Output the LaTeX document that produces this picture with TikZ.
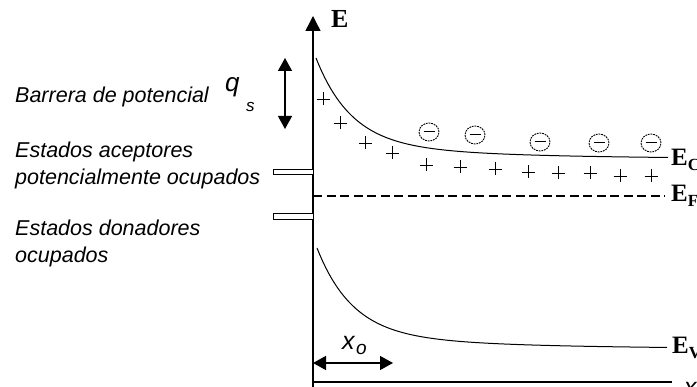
\documentclass[tikz,border=0pt]{standalone}
\usepackage{fontspec}
\setmainfont{Liberation Serif}
\setsansfont{Liberation Sans}
\usetikzlibrary{arrows.meta,shapes.geometric}
\begin{document}
\begin{tikzpicture}[x=1pt,y=-1pt,
  lbl/.style={font=\sffamily\itshape\fontsize{21.5}{27}\selectfont, anchor=base west, inner sep=0pt},
  elbl/.style={font=\rmfamily\bfseries\fontsize{25}{25}\selectfont, anchor=base west, inner sep=0pt},
  axis/.style={line width=1.4pt},
  band/.style={line width=1pt},
  fermi/.style={line width=2.6pt, dash pattern=on 9pt off 4.5pt},
  dblarrow/.style={line width=1.3pt, {Triangle[width=14pt,length=13pt]}-{Triangle[width=14pt,length=13pt]}},
  plusmark/.style={line width=0.9pt},
  minuscircle/.style={ellipse, draw, line width=0.9pt, dash pattern=on 1.8pt off 0.9pt, minimum width=20pt, minimum height=18pt, inner sep=0pt},
  statebox/.style={draw, line width=0.8pt, fill=white}]
\useasboundingbox (0,0) rectangle (697,387);
% axes
\coordinate (O) at (313,382);
\coordinate (Etop) at (313,16);
\coordinate (Xend) at (672,382);
\coordinate (Obot) at (313,392);
\draw[axis,-{Triangle[width=15pt,length=15pt]}] (Obot) -- (Etop);
\draw[axis] (O) -- (Xend);
\node[font=\rmfamily\bfseries\fontsize{26}{26}\selectfont, anchor=base west, inner sep=0pt] (Elab) at (331,28) {E};
\node[font=\sffamily\itshape\fontsize{25}{25}\selectfont, anchor=base west, inner sep=0pt] (xlab) at (684,396) {x};
% conduction band
\draw[band] plot[domain=316:668, samples=120] (\x, {159 - 85*exp(-(\x-316)/35) - 16*exp(-(\x-316)/150)});
\node[elbl] (Ec) at (671,166) {E\raisebox{-5pt}{\fontsize{17}{17}\selectfont C}};
% Fermi level
\coordinate (Fa) at (313,196);
\coordinate (Fb) at (665,196);
\draw[fermi] (Fa) -- (Fb);
\node[elbl] (Ef) at (671,202) {E\raisebox{-5pt}{\fontsize{17}{17}\selectfont F}};
% valence band
\draw[band] plot[domain=317:667, samples=120] (\x, {349 - 85*exp(-(\x-317)/35) - 16*exp(-(\x-317)/150)});
\node[elbl] (Ev) at (672,354) {E\raisebox{-5pt}{\fontsize{17}{17}\selectfont V}};
% plus charges
\foreach \px/\py in {323/99,340/123,365/143,392/153,426/165,460/167,495/169,528/172,558/173,590/173,620/176,651/176}{
  \draw[plusmark] (\px-6.5,\py) -- (\px+6.5,\py) (\px,\py-6.5) -- (\px,\py+6.5);
}
% minus charges
\foreach \mx/\my [count=\i] in {429/132,475/135,540/142,599/143,651/143}{
  \node[minuscircle] (m\i) at (\mx,\my) {};
  \draw[line width=1pt] (\mx-5.5,\my) -- (\mx+5.5,\my);
}
% barrier arrow
\coordinate (Ba) at (285,58);
\coordinate (Bb) at (285,129);
\draw[dblarrow] (Ba) -- (Bb);
\node[lbl] (barrera) at (15,103) {Barrera de potencial};
\node[font=\sffamily\itshape\fontsize{26}{26}\selectfont, anchor=base west, inner sep=0pt] (q) at (225,92) {q};
\node[font=\sffamily\itshape\fontsize{17}{17}\selectfont, anchor=base west, inner sep=0pt] (s) at (246,112) {s};
% states
\node[lbl] (acc1) at (15,158) {Estados aceptores};
\node[lbl] (acc2) at (15,185) {potencialmente ocupados};
\node[lbl] (don1) at (15,236) {Estados donadores};
\node[lbl] (don2) at (15,263) {ocupados};
\draw[statebox] (273,169) rectangle (313,174);
\draw[statebox] (273,213) rectangle (313,219);
% x0 arrow
\coordinate (Xa) at (313,363);
\coordinate (Xb) at (393,363);
\draw[dblarrow] (Xa) -- (Xb);
\node[font=\sffamily\itshape\fontsize{25}{25}\selectfont, anchor=base west, inner sep=0pt] (x0) at (342,350) {x};
\node[font=\sffamily\itshape\fontsize{19}{19}\selectfont, anchor=base west, inner sep=0pt] (x0sub) at (356,355) {o};
\end{tikzpicture}
\end{document}
